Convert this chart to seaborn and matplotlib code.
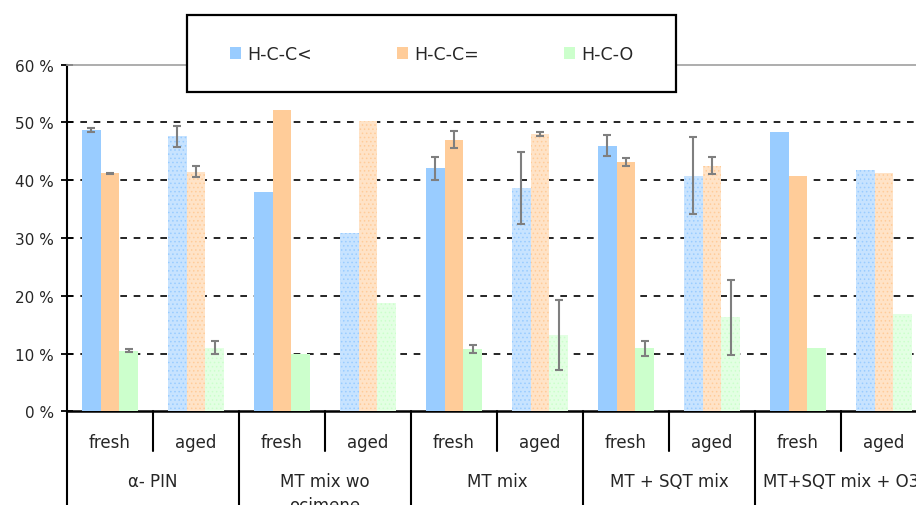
import numpy as np
import pandas as pd
import matplotlib
matplotlib.use("Agg")
import matplotlib.pyplot as plt
import matplotlib.transforms as mtransforms
from matplotlib.patches import Patch, Rectangle
import seaborn as sns

# ---------------- data ----------------
groups = ["\u03b1- PIN", "MT mix wo\nocimene", "MT mix", "MT + SQT mix", "MT+SQT mix + O3"]
states = ["fresh", "aged"]
series = ["H-C-C<", "H-C-C=", "H-C-O"]

# values (%) per condition: order = group x state
hcc_single = [48.7, 47.6, 38.0, 30.8, 42.1, 38.7, 46.0, 40.8, 48.4, 41.7]
hcc_double = [41.2, 41.5, 52.2, 50.2, 47.0, 48.0, 43.2, 42.5, 40.8, 41.2]
hco        = [10.5, 11.0, 9.9, 18.7, 10.8, 13.2, 10.9, 16.3, 10.9, 16.8]

# error bars (half-width, %), NaN = none
err_single = [0.4, 1.8, np.nan, np.nan, 2.0, 6.2, 1.8, 6.6, np.nan, np.nan]
err_double = [0.1, 0.9, np.nan, np.nan, 1.5, 0.4, 0.7, 1.5, np.nan, np.nan]
err_hco    = [0.2, 1.1, np.nan, np.nan, 0.7, 6.0, 1.3, 6.5, np.nan, np.nan]

colors = ["#99CCFF", "#FFCC99", "#CCFFCC"]

# ---------------- build table ----------------
conds = [f"{g}|{s}" for g in groups for s in states]
rows = []
for name, vals in zip(series, [hcc_single, hcc_double, hco]):
    for c, v in zip(conds, vals):
        rows.append({"cond": c, "series": name, "value": v})
df = pd.DataFrame(rows)
errs = {series[0]: err_single, series[1]: err_double, series[2]: err_hco}

sns.set_theme(style="white")
plt.rcParams["font.family"] = ["DejaVu Sans"]
plt.rcParams["hatch.linewidth"] = 0.6

fig = plt.figure(figsize=(9.16, 5.06), dpi=100)
ax_left = 67 / 916
ax_bottom = (506 - 412.3) / 506
ax_height = (412.3 - 65.7) / 506
ax = fig.add_axes([ax_left, ax_bottom, 1 - ax_left, ax_height])

sns.barplot(data=df, x="cond", y="value", hue="series", order=conds,
            hue_order=series, palette=colors, width=0.66, errorbar=None,
            saturation=1, ax=ax, legend=False)

def tint(c, f):
    r, g, b = matplotlib.colors.to_rgb(c)
    return (1 - f * (1 - r), 1 - f * (1 - g), 1 - f * (1 - b))

bar_containers = list(ax.containers)
for k, cont in enumerate(bar_containers):
    name = series[k]
    for i, bar in enumerate(cont.patches):
        bar.set_linewidth(0)
        bar.set_zorder(3)
        if states[i % 2] == "aged":
            bar.set_facecolor(tint(colors[k], 0.55))
            bar.set_edgecolor(colors[k])
            bar.set_hatch("....")
        e = errs[name][i]
        if not np.isnan(e):
            xc = bar.get_x() + bar.get_width() / 2
            yc = bar.get_height()
            ax.errorbar(xc, yc, yerr=e, fmt="none", ecolor="#7F7F7F",
                        elinewidth=1.5, capsize=3, capthick=1.5, zorder=5)

# ---------------- axes styling ----------------
ax.set_ylim(0, 60)
ax.set_xlim(-0.5, (916 - 67) / 86 - 0.5)
ax.set_yticks(np.arange(0, 61, 10))
ax.set_yticklabels([f"{v} %" for v in range(0, 61, 10)], fontsize=11)
ax.tick_params(axis="y", direction="inout", length=9, width=1.3, color="black",
               left=True, pad=5)
for y in range(10, 60, 10):
    ax.axhline(y, color="black", lw=1.2, ls=(0, (4, 4)), zorder=1)
ax.set_xlabel("")
ax.set_ylabel("")
ax.set_xticks(range(len(conds)))
ax.set_xticklabels([s for g in groups for s in states], fontsize=12)
ax.tick_params(axis="x", length=0, pad=22)
for lbl in ax.get_xticklabels():
    lbl.set_verticalalignment("center")

ax.spines["left"].set_color("black")
ax.spines["left"].set_linewidth(1.5)
ax.spines["bottom"].set_color("black")
ax.spines["bottom"].set_linewidth(1.8)
ax.spines["top"].set_color("#A0A0A0")
ax.spines["top"].set_linewidth(1.2)
ax.spines["right"].set_visible(False)

# category separators and group labels
trans = mtransforms.blended_transform_factory(ax.transData, ax.transAxes)
for j in range(len(groups)):
    xl = 2 * j - 0.5
    ax.plot([xl, xl], [0, -0.3], transform=trans, color="black", lw=1.5,
            clip_on=False, zorder=6)
    ax.plot([xl + 1, xl + 1], [0, -0.114], transform=trans, color="black", lw=1.5,
            clip_on=False, zorder=6)
    ax.text(2 * j + 0.5, -0.175, groups[j], transform=trans, ha="center", va="top",
            fontsize=12, linespacing=1.45)

# legend box and legend
frame = Rectangle((187 / 916, (506 - 93) / 506), 489 / 916, 77 / 506,
                  transform=fig.transFigure, facecolor="white", edgecolor="black",
                  linewidth=1.6, zorder=1)
fig.add_artist(frame)
handles = [Patch(facecolor=c, edgecolor="none", label=s) for c, s in zip(colors, series)]
leg = fig.legend(handles=handles, loc="center", ncol=3,
                 bbox_to_anchor=(431.5 / 916, (506 - 55) / 506),
                 frameon=False, fontsize=12.5, borderpad=0,
                 handlelength=0.65, handleheight=0.65, handletextpad=0.35,
                 columnspacing=4.9, borderaxespad=0)
leg.set_zorder(5)

fig.savefig("out.png", dpi=100)
